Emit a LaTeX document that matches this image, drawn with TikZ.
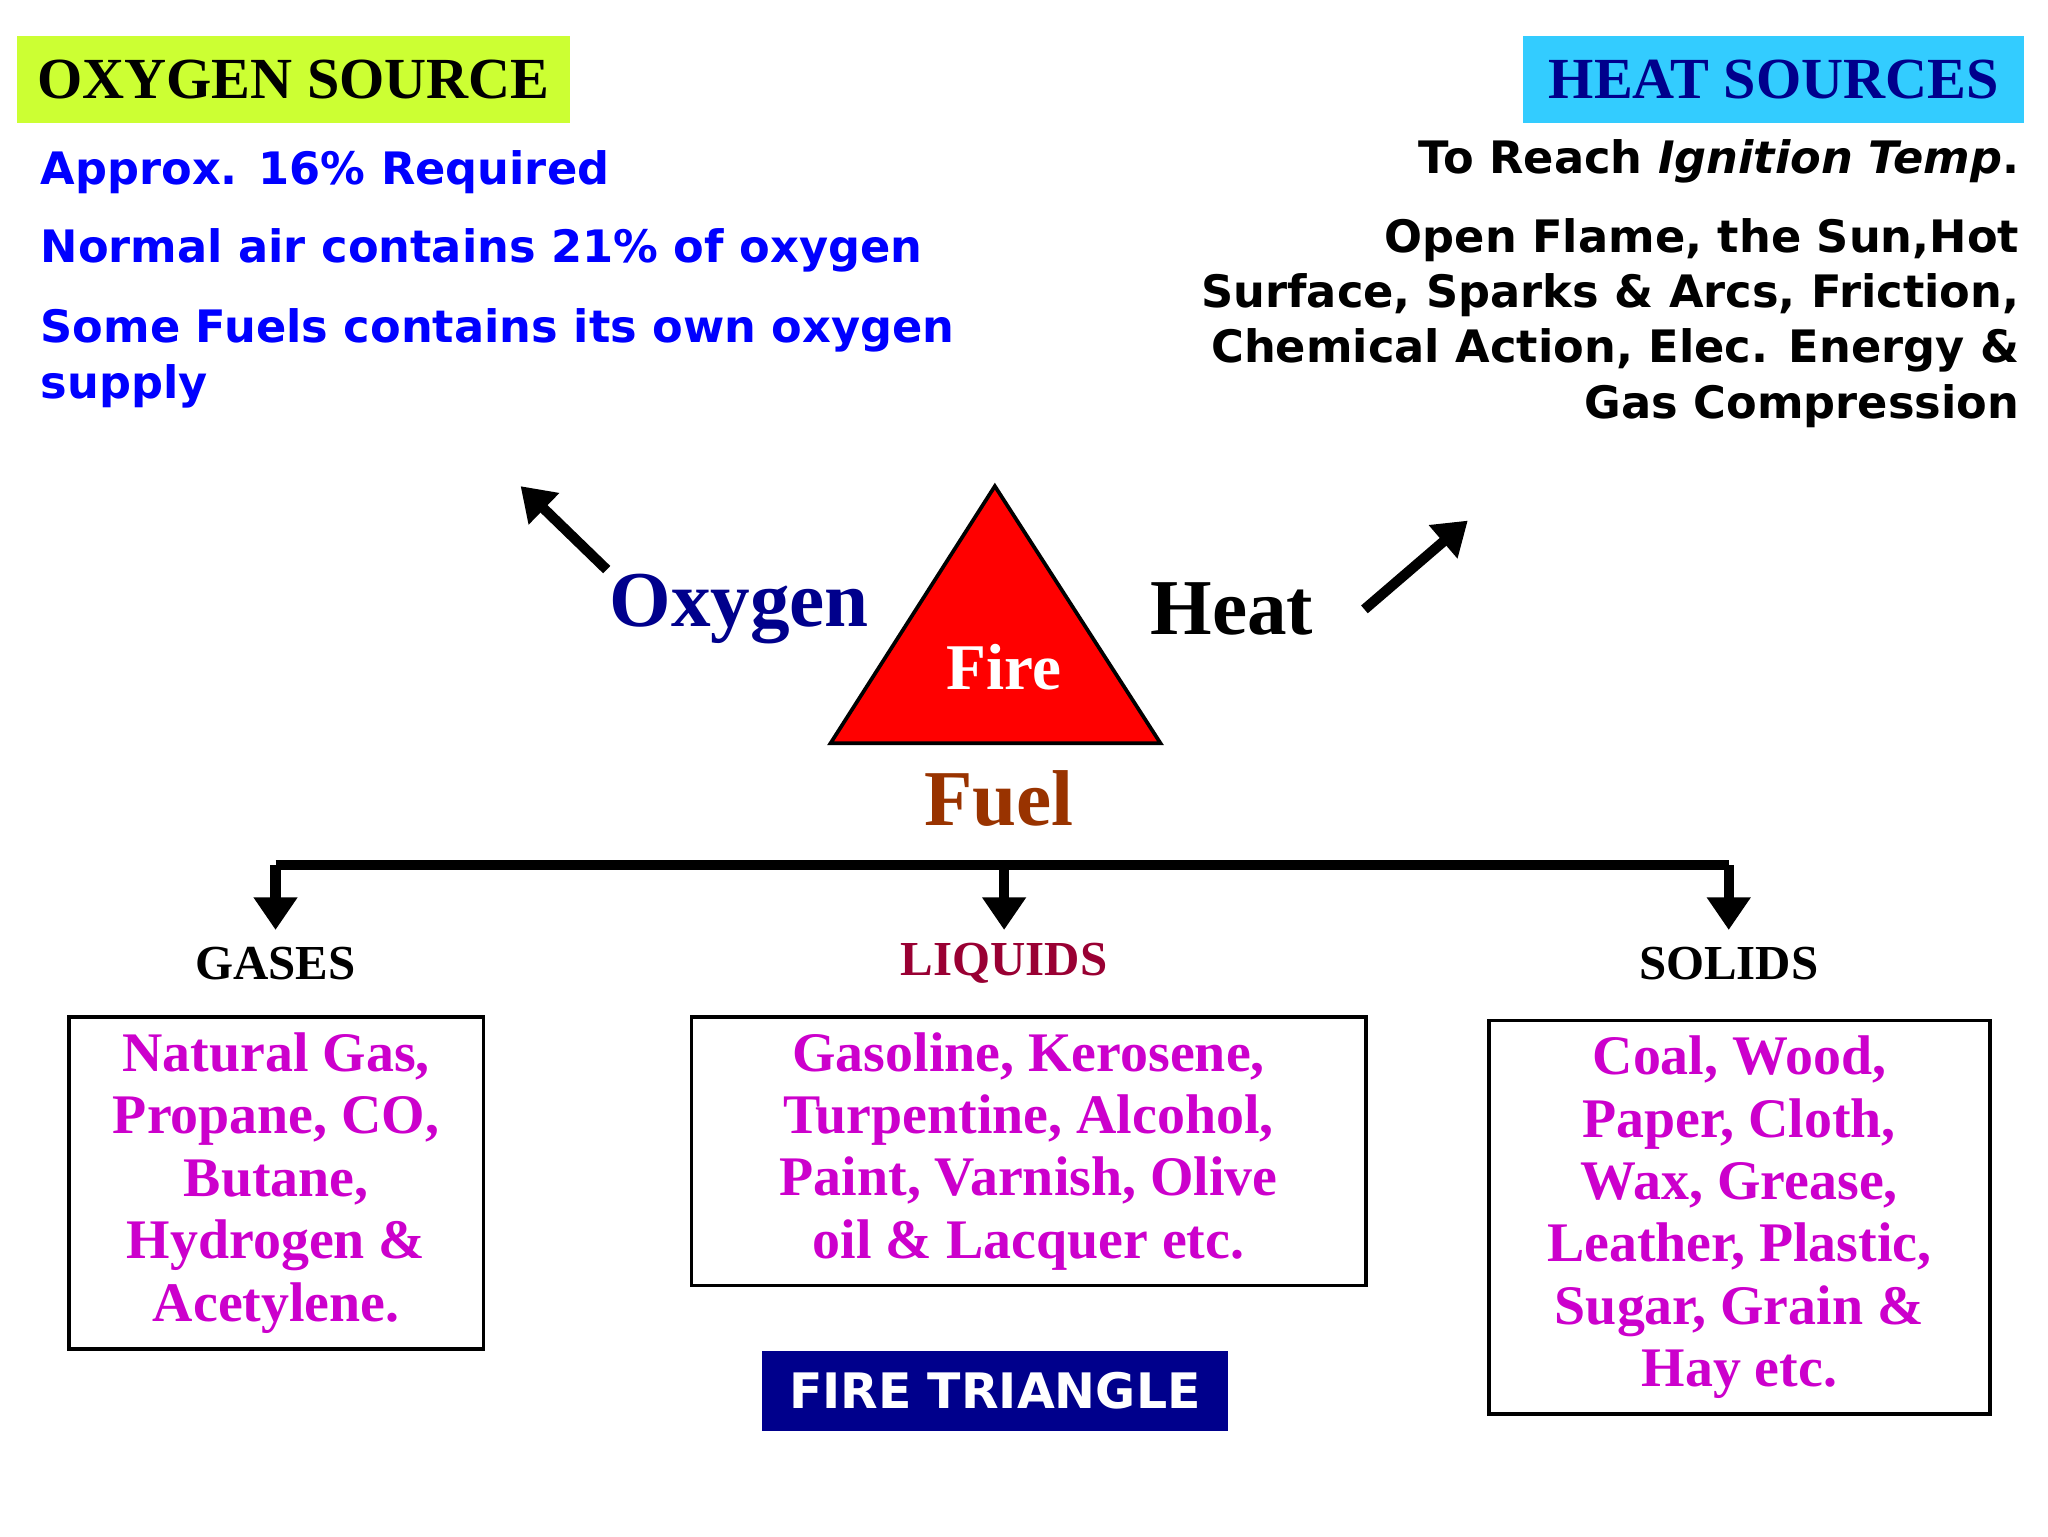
\documentclass[tikz,border=0pt]{standalone}
\usepackage{fontspec}
\setmainfont{Liberation Serif}
\newfontfamily\dvs{DejaVu Sans}
\usetikzlibrary{arrows.meta}
\definecolor{navy}{RGB}{0,0,140}
\definecolor{mag}{RGB}{204,0,204}
\definecolor{brn}{RGB}{153,51,0}
\definecolor{lqd}{RGB}{153,0,51}
\definecolor{lime}{RGB}{204,255,51}
\definecolor{cy}{RGB}{51,204,255}
\definecolor{blu}{RGB}{0,0,255}
\tikzset{
 sidetxt/.style={font=\dvs\bfseries\fontsize{9.6}{12}\selectfont,inner sep=0},
 boxtxt/.style={draw,line width=0.8pt,text=mag,align=center,font=\bfseries\fontsize{12}{13.4}\selectfont},
 cat/.style={font=\bfseries\fontsize{10.5}{12}\selectfont},
 big/.style={font=\bfseries\fontsize{17}{20}\selectfont},
 fat/.style={line width=2.2pt,-{Triangle[length=7pt,width=9pt]}}
}
\begin{document}
\begin{tikzpicture}[x=1cm,y=-1cm]
\useasboundingbox (0,0) rectangle (15.46,11.6);
\fill[white] (0,0) rectangle (15.46,11.6);
% headers
\node[fill=lime,minimum width=4.17cm,minimum height=0.66cm,font=\bfseries\fontsize{12.5}{15}\selectfont] (os) at (2.215,0.6) {OXYGEN SOURCE};
\node[fill=cy,minimum width=3.78cm,minimum height=0.66cm,text=navy,font=\bfseries\fontsize{12.5}{15}\selectfont] (hs) at (13.39,0.6) {HEAT SOURCES};
\node[sidetxt,text=blu,anchor=west] (o1) at (0.3,1.3) {Approx. 16\% Required};
\node[sidetxt,text=blu,anchor=west] (o2) at (0.3,1.89) {Normal air contains 21\% of oxygen};
\node[sidetxt,text=blu,anchor=north west,align=left] (o3) at (0.3,2.32) {Some Fuels contains its own oxygen\\supply};
\node[sidetxt,anchor=east] (h1) at (15.25,1.22) {To Reach \textit{Ignition Temp}.};
\node[sidetxt,anchor=north east,align=right,font=\dvs\bfseries\fontsize{9.6}{11.9}\selectfont] (h2) at (15.25,1.64) {Open Flame, the Sun,Hot\\Surface, Sparks \& Arcs, Friction,\\Chemical Action, Elec. Energy \&\\Gas Compression};
% triangle
\coordinate (ta) at (7.51,3.67);
\coordinate (tl) at (6.27,5.61);
\coordinate (tr) at (8.76,5.61);
\draw[fill=red,line width=0.8pt] (ta) -- (tl) -- (tr) -- cycle;
\node[text=white,font=\bfseries\fontsize{14}{16}\selectfont] (fire) at (7.58,5.04) {Fire};
\node[big,text=navy] (oxy) at (5.58,4.6) {Oxygen};
\node[big] (heat) at (9.3,4.6) {Heat};
\node[big,text=brn] (fuel) at (7.54,6.03) {Fuel};
\coordinate (oa) at (4.58,4.3); \coordinate (ob) at (3.93,3.67);
\coordinate (ha) at (10.3,4.6); \coordinate (hb) at (11.08,3.93);
\draw[fat] (oa) -- (ob);
\draw[fat] (ha) -- (hb);
% tree
\coordinate (t1) at (2.08,6.53); \coordinate (t2) at (7.58,6.53); \coordinate (t3) at (13.05,6.53);
\coordinate (d1) at (2.08,7.02); \coordinate (d2) at (7.58,7.02); \coordinate (d3) at (13.05,7.02);
\draw[line width=2.2pt] (t1) -- (t3);
\draw[fat] (t1) -- (d1);
\draw[fat] (t2) -- (d2);
\draw[fat] (t3) -- (d3);
\node[cat] (gas) at (2.08,7.27) {GASES};
\node[cat,text=lqd] (liq) at (7.58,7.27) {LIQUIDS};
\node[cat] (sol) at (13.05,7.27) {SOLIDS};
\node[boxtxt,minimum width=3.13cm,minimum height=2.5cm] (gb) at (2.085,8.93) {Natural Gas,\\Propane, CO,\\Butane,\\Hydrogen \&\\Acetylene.};
\node[boxtxt,minimum width=5.09cm,minimum height=2.02cm] (lb) at (7.765,8.69) {Gasoline, Kerosene,\\Turpentine, Alcohol,\\Paint, Varnish, Olive\\oil \& Lacquer etc.};
\node[boxtxt,minimum width=3.78cm,minimum height=2.96cm] (sb) at (13.13,9.19) {Coal, Wood,\\Paper, Cloth,\\Wax, Grease,\\Leather, Plastic,\\Sugar, Grain \&\\Hay etc.};
\node[fill=navy,text=white,text width=3.3cm,align=center,minimum height=0.6cm,inner xsep=0.11cm,font=\dvs\bfseries\fontsize{10.5}{13}\selectfont] (ft) at (7.51,10.5) {FIRE TRIANGLE};
\end{tikzpicture}
\end{document}
